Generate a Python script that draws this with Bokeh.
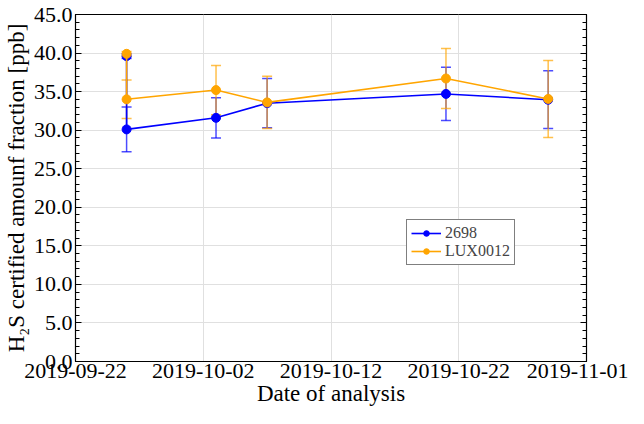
from datetime import datetime
import pandas as pd
from bokeh.plotting import figure
from bokeh.models import (ColumnDataSource, Range1d, LinearAxis, FixedTicker, SingleIntervalTicker,
                          DatetimeTickFormatter, PrintfTickFormatter, Whisker, TeeHead, Legend, LegendItem,
                          CustomJSTickFormatter)
from bokeh.embed import file_html
from bokeh.resources import INLINE

# ---- data ----
dates_2698 = ["2019-09-26", "2019-09-26", "2019-10-03", "2019-10-07", "2019-10-21", "2019-10-29"]
values_2698 = [39.6, 30.1, 31.6, 33.5, 34.7, 33.95]
errors_2698 = [0.3, 2.9, 2.6, 3.2, 3.45, 3.75]

dates_lux = ["2019-09-26", "2019-09-26", "2019-10-03", "2019-10-07", "2019-10-21", "2019-10-29"]
values_lux = [39.9, 34.0, 35.2, 33.6, 36.7, 34.05]
errors_lux = [0.3, 2.5, 3.2, 3.4, 3.9, 5.0]

x_tick_labels = ["2019-09-22", "2019-10-02", "2019-10-12", "2019-10-22", "2019-11-01"]
series_names = ["2698", "LUX0012"]

FONT = "Liberation Serif"
BLUE = "#0000ff"
ORANGE = "#ffa500"

def make_source(dates, vals, errs):
    d = pd.to_datetime(dates)
    return ColumnDataSource(dict(
        x=d, y=vals,
        upper=[v + e for v, e in zip(vals, errs)],
        lower=[v - e for v, e in zip(vals, errs)],
    ))

src_b = make_source(dates_2698, values_2698, errors_2698)
src_o = make_source(dates_lux, values_lux, errors_lux)

tick_ms = [pd.Timestamp(t).value // 10**6 for t in x_tick_labels]

p = figure(width=628, height=408, output_backend="svg", toolbar_location=None,
           x_axis_type="datetime",
           x_range=Range1d(pd.Timestamp(x_tick_labels[0]), pd.Timestamp(x_tick_labels[-1])),
           y_range=Range1d(0, 45),
           min_border_left=72, min_border_right=42, min_border_top=14, min_border_bottom=0)

p.outline_line_color = "black"
p.outline_line_width = 1.2
p.background_fill_color = "white"
p.border_fill_color = "white"

# x axis
xa = p.xaxis[0]
xa.ticker = FixedTicker(ticks=tick_ms)
fmt = "%Y-%m-%d"
xa.formatter = DatetimeTickFormatter(days=fmt, months=fmt, years=fmt, hours=fmt,
                                     hourmin=fmt, minutes=fmt, minsec=fmt, seconds=fmt,
                                     milliseconds=fmt, microseconds=fmt)
xa.axis_label = "Date of analysis"
xa.major_tick_in = 0
xa.major_tick_out = 0
xa.minor_tick_in = 0
xa.minor_tick_out = 0
xa.major_label_standoff = 2
xa.axis_label_standoff = 0

# y axis
ya = p.yaxis[0]
ya.ticker = SingleIntervalTicker(interval=5, num_minor_ticks=5)
ya.formatter = PrintfTickFormatter(format="%.1f")
ya.axis_label = "H\u2082S certified amounf fraction [ppb]"
ya.major_tick_in = 6
ya.major_tick_out = 0
ya.minor_tick_in = 4
ya.minor_tick_out = 0
ya.major_label_standoff = 3
ya.axis_label_standoff = 2

ra = LinearAxis(ticker=SingleIntervalTicker(interval=5, num_minor_ticks=5),
                formatter=CustomJSTickFormatter(code="return ''"),
                major_tick_in=6, major_tick_out=0,
                minor_tick_in=4, minor_tick_out=0, major_label_standoff=0)
p.add_layout(ra, "right")

for ax in [xa, ya]:
    ax.major_label_text_font = FONT
    ax.axis_label_text_font = FONT
    ax.major_label_text_font_size = "22px"
    ax.axis_label_text_font_size = "23px"
    ax.axis_label_text_font_style = "normal"
    ax.major_label_text_color = "black"
    ax.axis_label_text_color = "black"
for ax in [xa, ya, ra]:
    ax.axis_line_color = "black"
    ax.major_tick_line_color = "black"
    ax.minor_tick_line_color = "black"

p.xgrid.ticker = FixedTicker(ticks=tick_ms)
p.xgrid.grid_line_color = "#e0e0e0"
p.ygrid.grid_line_color = "#e0e0e0"
p.xgrid.grid_line_width = 1
p.ygrid.grid_line_width = 1

items = []
for src, color, name in [(src_b, BLUE, series_names[0]), (src_o, ORANGE, series_names[1])]:
    w = Whisker(source=src, base="x", upper="upper", lower="lower",
                line_color=color, line_alpha=0.7, line_width=1.5,
                upper_head=TeeHead(size=10, line_color=color, line_alpha=0.7, line_width=1.5),
                lower_head=TeeHead(size=10, line_color=color, line_alpha=0.7, line_width=1.5))
    p.add_layout(w)
    l = p.line("x", "y", source=src, line_color=color, line_width=1.6)
    s = p.scatter("x", "y", source=src, marker="circle", size=9, fill_color=color, line_color=color)
    items.append(LegendItem(label=name, renderers=[l, s]))

legend = Legend(items=items, location=(331, 96), label_text_font=FONT, label_text_font_size="16px",
                border_line_color="black", border_line_width=1, padding=4, spacing=0,
                glyph_width=30, glyph_height=14, label_height=14, label_standoff=4,
                margin=0, background_fill_alpha=1)
p.add_layout(legend, "center")

open("out.html", "w").write(file_html(p, INLINE))
